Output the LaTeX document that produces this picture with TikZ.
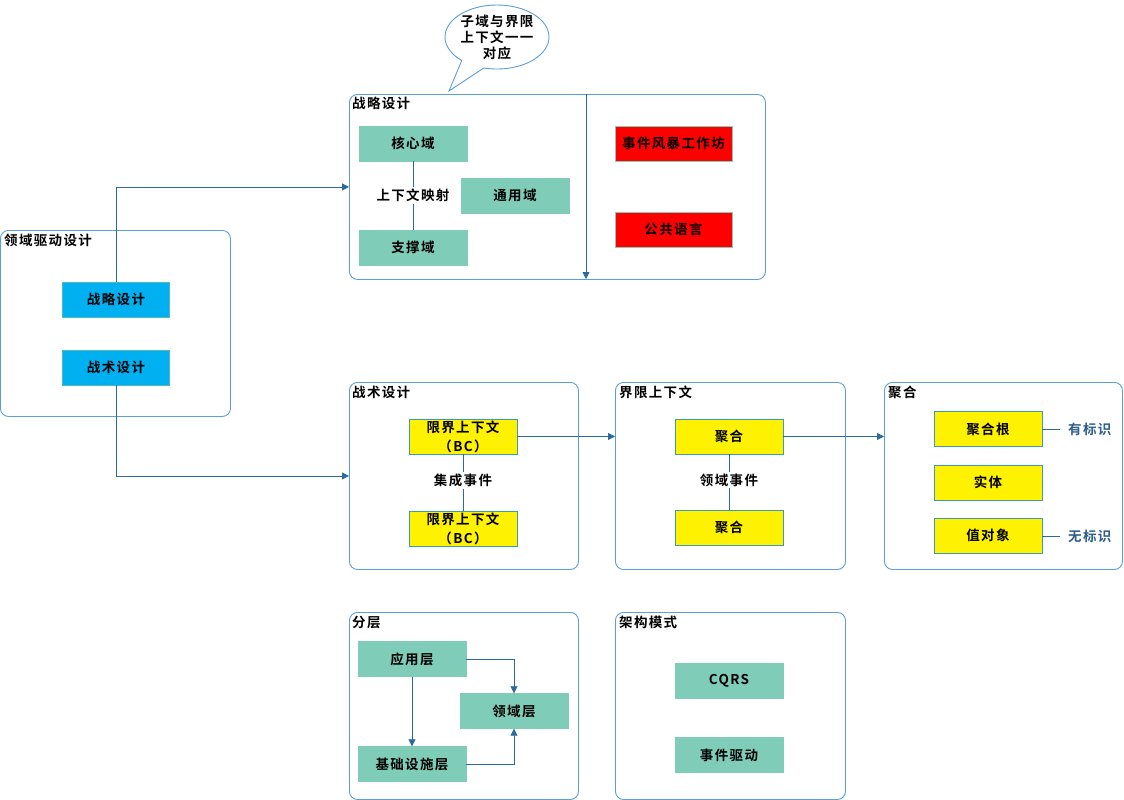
\documentclass[tikz,border=0pt]{standalone}
\usepackage{fontspec}
\setmainfont{Noto Sans CJK SC}[BoldFont=* Bold, LetterSpace=10]
\usetikzlibrary{arrows.meta,shapes.callouts}
\definecolor{cborder}{HTML}{5B9FD6}
\definecolor{arrowc}{HTML}{2A6A9E}
\definecolor{tealf}{HTML}{7FCCB8}
\definecolor{bluef}{HTML}{00B0F0}
\definecolor{blueb}{HTML}{4FB8C8}
\definecolor{yellb}{HTML}{3A9DB8}
\definecolor{labc}{HTML}{2E5E8A}
\tikzset{
  txt/.style={font=\bfseries\fontsize{13.5}{19}\selectfont},
  container/.style={draw=cborder, line width=0.9pt, rounded corners=8pt, fill=white},
  ctitle/.style={txt, anchor=north west, inner sep=0pt},
  tbox/.style={txt, fill=tealf, draw=tealf, minimum width=108pt, minimum height=35pt, inner sep=0pt, align=center},
  bbox/.style={txt, fill=bluef, draw=blueb, minimum width=107pt, minimum height=35pt, inner sep=0pt, align=center},
  ybox/.style={txt, fill=yellow, draw=yellb, line width=0.6pt, minimum width=108pt, minimum height=35pt, inner sep=0pt, align=center},
  rbox/.style={txt, fill=red, draw=tealf, line width=0.8pt, minimum width=117pt, minimum height=35pt, inner sep=0pt, align=center},
  arr/.style={draw=arrowc, line width=0.8pt, -{Triangle[width=7pt,length=7pt]}},
  plain/.style={draw=arrowc, line width=0.8pt},
  mid/.style={txt, fill=white, inner sep=2pt},
}
\begin{document}
\begin{tikzpicture}[x=1pt,y=-1pt]
\useasboundingbox (0,0) rectangle (1124,800);

% containers
\node[container, minimum width=230pt, minimum height=186pt, anchor=north west] (cddd) at (0,230) {};
\node[ctitle] (tddd) at (4,234) {领域驱动设计};
\node[container, minimum width=416pt, minimum height=185pt, anchor=north west] (czl) at (349,94) {};
\node[ctitle] (tzl) at (352,97) {战略设计};
\node[container, minimum width=229pt, minimum height=187pt, anchor=north west] (czs) at (349,382) {};
\node[ctitle] (tzs) at (352,386) {战术设计};
\node[container, minimum width=230pt, minimum height=187pt, anchor=north west] (cbc) at (615,382) {};
\node[ctitle] (tbc) at (619,386) {界限上下文};
\node[container, minimum width=238pt, minimum height=187pt, anchor=north west] (cjh) at (884,382) {};
\node[ctitle] (tjh) at (888,386) {聚合};
\node[container, minimum width=229pt, minimum height=187pt, anchor=north west] (cfc) at (349,612) {};
\node[ctitle] (tfc) at (352,616) {分层};
\node[container, minimum width=230pt, minimum height=187pt, anchor=north west] (cjg) at (615,612) {};
\node[ctitle] (tjg) at (619,616) {架构模式};

% callout
\node[ellipse callout, draw=cborder, line width=0.9pt, fill=white, minimum width=104pt, minimum height=64pt, inner sep=0pt,
  callout absolute pointer={(449,91)}, callout pointer arc=28, align=center,
  font=\bfseries\fontsize{13.5}{16}\selectfont] (bubble) at (497,37) {子域与界限\\上下文一一\\对应};

% left
\node[bbox] (lzl) at (116,299.5) {战略设计};
\node[bbox] (lzs) at (116,367.5) {战术设计};

% strategic
\node[tbox] (hxy) at (413,143.5) {核心域};
\node[tbox] (tyy) at (515,195.5) {通用域};
\node[tbox] (zcy) at (413,247.5) {支撑域};
\node[rbox] (fb) at (673.5,143.5) {事件风暴工作坊};
\node[rbox] (gg) at (673.5,229.5) {公共语言};
\coordinate (vt) at (586,94);
\coordinate (vb) at (586,279);

% tactical
\node[ybox] (bc1) at (463,436.5) {限界上下文\\（BC）};
\node[ybox] (bc2) at (463,528.5) {限界上下文\\（BC）};

% bounded context
\node[ybox] (jh1) at (729,436.5) {聚合};
\node[ybox] (jh2) at (729,527.5) {聚合};

% aggregate
\node[ybox] (jhg) at (988,429) {聚合根};
\node[ybox] (st) at (988,482.5) {实体};
\node[ybox] (zdx) at (988,535.5) {值对象};
\node[txt, text=labc, anchor=west, inner sep=0pt] (ybs) at (1068,429) {有标识};
\node[txt, text=labc, anchor=west, inner sep=0pt] (wbs) at (1068,536) {无标识};

% layers
\node[tbox] (yyc) at (412,659) {应用层};
\node[tbox] (lyc) at (514,711) {领域层};
\node[tbox] (jcc) at (412,764) {基础设施层};

% architecture
\node[tbox] (cqrs) at (729,681) {CQRS};
\node[tbox] (sjqd) at (729,755) {事件驱动};

% connectors
\draw[arr] (lzl.north) |- (czl.west);
\draw[arr] (lzs.south) |- (czs.west);
\draw[arr] (vt) -- (vb);
\draw[plain] (hxy.south) -- node[mid] {上下文映射} (zcy.north);
\draw[plain] (bc1.south) -- node[mid, yshift=2pt] {集成事件} (bc2.north);
\draw[plain] (jh1.south) -- node[mid, yshift=2pt] {领域事件} (jh2.north);
\draw[arr] (bc1.east) -- (bc1.east -| cbc.west);
\draw[arr] (jh1.east) -- (jh1.east -| cjh.west);
\draw[plain] (jhg.east) -- ([xshift=-8pt]ybs.west);
\draw[plain] (zdx.east |- wbs.west) -- ([xshift=-8pt]wbs.west);
\draw[arr] (yyc.east) -| (lyc.north);
\draw[arr] (yyc.south) -- (jcc.north);
\draw[arr] (jcc.east) -| (lyc.south);
\end{tikzpicture}
\end{document}
